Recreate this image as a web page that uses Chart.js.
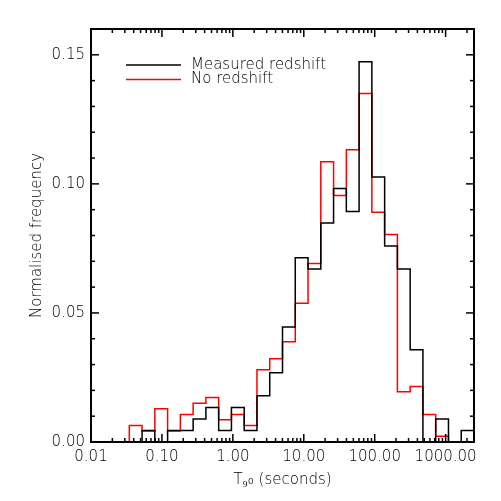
<!DOCTYPE html>
<html>
<head>
<meta charset="utf-8">
<script src="https://cdn.jsdelivr.net/npm/chart.js@4.4.1/dist/chart.umd.min.js"></script>
<style>
html, body { margin: 0; padding: 0; background: #fff; }
#wrap { width: 501px; height: 501px; }
</style>
</head>
<body>
<div id="wrap"><canvas id="c" width="501" height="501"></canvas></div>
<script>
// Histogram bin edges (log10 of T90 in seconds)
const binEdgesLog10 = [-2.00, -1.82, -1.64, -1.46, -1.28, -1.10, -0.92, -0.74, -0.56, -0.38,
                       -0.20, -0.02, 0.16, 0.34, 0.52, 0.70, 0.88, 1.06, 1.24, 1.42,
                       1.60, 1.78, 1.96, 2.14, 2.32, 2.50, 2.68, 2.86, 3.04, 3.22, 3.40];
// Normalised frequency per bin
const measuredRedshift = [0, 0, 0, 0, 0.0045, 0, 0.0045, 0.0045, 0.0089, 0.0134,
                          0.0045, 0.0134, 0.0045, 0.0179, 0.0268, 0.0446, 0.0714, 0.0670, 0.0848, 0.0982,
                          0.0893, 0.1473, 0.1027, 0.0759, 0.0670, 0.0357, 0, 0.0089, 0, 0.0045];
const noRedshift = [0, 0, 0, 0.0064, 0.0043, 0.0129, 0.0043, 0.0107, 0.0150, 0.0172,
                    0.0086, 0.0107, 0.0064, 0.0280, 0.0323, 0.0388, 0.0538, 0.0692, 0.1086, 0.0955,
                    0.1132, 0.1350, 0.0890, 0.0804, 0.0195, 0.0215, 0.0107, 0.0022, 0, 0];
const seriesLabels = ['Measured redshift', 'No redshift'];
const seriesColors = ['#000000', '#ff0000'];
const xTickValues = [0.01, 0.1, 1, 10, 100, 1000];
const yTickValues = [0, 0.05, 0.10, 0.15];
const xTitle = 'T\u2089\u2080 (seconds)';
const yTitle = 'Normalised frequency';

function stepPoints(values) {
  const pts = values.map((v, i) => ({ x: Math.pow(10, binEdgesLog10[i]), y: v }));
  pts.push({ x: Math.pow(10, binEdgesLog10[binEdgesLog10.length - 1]), y: values[values.length - 1] });
  return pts;
}

const FONT = { family: 'DejaVu Sans', size: 15, weight: 200, lineHeight: 1.2 };
const TXT = '#000000';

const frameTicks = {
  id: 'frameTicks',
  afterDraw(chart) {
    const { ctx, chartArea: a, scales: { x, y } } = chart;
    ctx.save();
    ctx.strokeStyle = '#000';
    ctx.lineWidth = 1.5;
    const seg = (x1, y1, x2, y2) => { ctx.beginPath(); ctx.moveTo(x1, y1); ctx.lineTo(x2, y2); ctx.stroke(); };
    for (let e = -2; e <= 3; e++) {
      for (let m = 1; m <= 9; m++) {
        const v = m * Math.pow(10, e);
        if (v < x.min * 0.999 || v > x.max * 1.001) continue;
        const px = x.getPixelForValue(v);
        const len = m === 1 ? 8 : 4;
        seg(px, a.bottom, px, a.bottom - len);
        seg(px, a.top, px, a.top + len);
      }
    }
    for (let k = 1; k < 16; k++) {
      const py = y.getPixelForValue(k / 100);
      const len = k % 5 === 0 ? 8 : 4;
      seg(a.left, py, a.left + len, py);
      seg(a.right, py, a.right - len, py);
    }
    ctx.lineWidth = 2;
    ctx.strokeRect(a.left, a.top, a.right - a.left, a.bottom - a.top);

    // legend
    ctx.font = '200 15px "DejaVu Sans"';
    ctx.textBaseline = 'middle';
    ctx.textAlign = 'left';
    seriesLabels.forEach((lab, i) => {
      const yy = 65 + i * 14.5;
      ctx.strokeStyle = seriesColors[i];
      ctx.lineWidth = 1.5;
      seg(126, yy, 181, yy);
      ctx.fillStyle = TXT;
      ctx.fillText(lab, 191, yy);
    });
    ctx.restore();
  }
};

new Chart(document.getElementById('c'), {
  type: 'line',
  data: {
    datasets: [
      { label: seriesLabels[0], data: stepPoints(measuredRedshift), borderColor: seriesColors[0],
        borderWidth: 1.5, stepped: 'before', pointRadius: 0, fill: false },
      { label: seriesLabels[1], data: stepPoints(noRedshift), borderColor: seriesColors[1],
        borderWidth: 1.5, stepped: 'before', pointRadius: 0, fill: false }
    ]
  },
  options: {
    responsive: false,
    animation: false,
    devicePixelRatio: 1,
    layout: { padding: { top: 29, right: 27, bottom: 0, left: 0 } },
    plugins: { legend: { display: false }, tooltip: { enabled: false } },
    scales: {
      x: {
        type: 'logarithmic',
        position: 'bottom',
        min: 0.01,
        max: Math.pow(10, 3.4),
        grid: { display: false, drawTicks: false },
        border: { display: false },
        afterBuildTicks: s => { s.ticks = xTickValues.map(v => ({ value: v })); },
        afterFit: s => { s.height = 59; s.paddingLeft = 0; s.paddingRight = 0; },
        ticks: { autoSkip: false, maxRotation: 0, minRotation: 0, padding: 6, font: FONT, color: TXT,
                 callback: v => Number(v).toFixed(2) },
        title: { display: true, text: xTitle, font: FONT, color: TXT, padding: { top: 0, bottom: 12 } }
      },
      y: {
        type: 'linear',
        position: 'left',
        min: 0,
        max: 0.16,
        grid: { display: false, drawTicks: false },
        border: { display: false },
        afterBuildTicks: s => { s.ticks = yTickValues.map(v => ({ value: v })); },
        afterFit: s => { s.width = 91; s.paddingTop = 0; s.paddingBottom = 0; },
        ticks: { padding: 6, font: FONT, color: TXT, callback: v => Number(v).toFixed(2) },
        title: { display: true, text: yTitle, font: FONT, color: TXT, padding: { top: 28, bottom: 0 } }
      }
    }
  },
  plugins: [frameTicks]
});
</script>
</body>
</html>
